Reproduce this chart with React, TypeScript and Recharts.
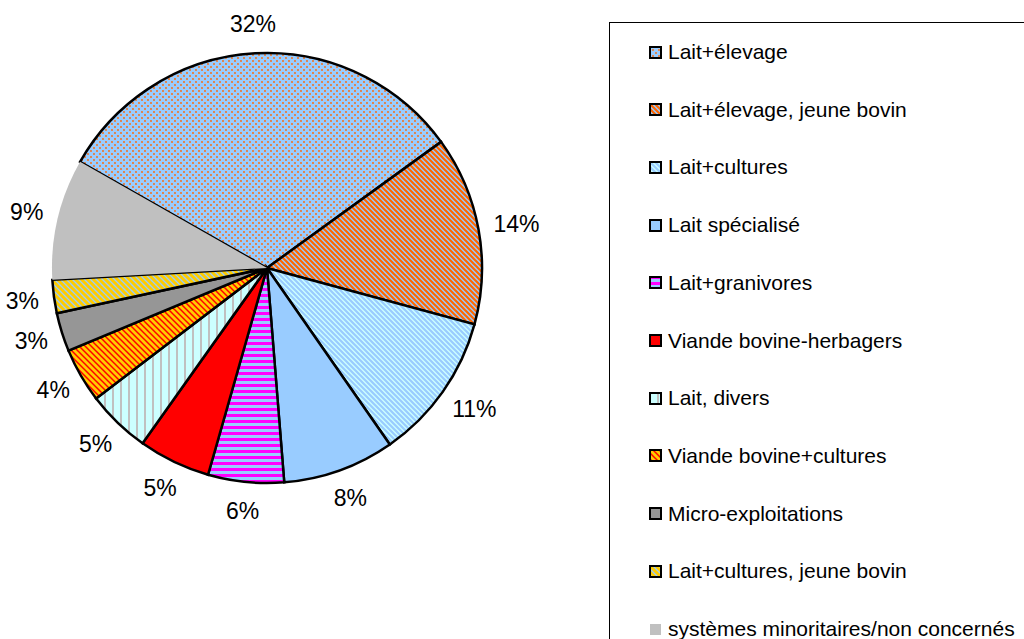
import React from 'react';
import { PieChart, Pie, Cell } from 'recharts';

const categories = [
  'Lait+élevage',
  'Lait+élevage, jeune bovin',
  'Lait+cultures',
  'Lait spécialisé',
  'Lait+granivores',
  'Viande bovine-herbagers',
  'Lait, divers',
  'Viande bovine+cultures',
  'Micro-exploitations',
  'Lait+cultures, jeune bovin',
  'systèmes minoritaires/non concernés',
];
const shares = [31.8, 14.2, 11.1, 8.4, 5.7, 5.4, 4.8, 4.1, 2.9, 2.5, 9.1];
const fills = [
  'url(#p0)', 'url(#p1)', 'url(#p2)', '#99CCFF', 'url(#p4)', '#FF0000',
  'url(#p6)', 'url(#p7)', '#969696', 'url(#p9)', '#C0C0C0',
];

const data = categories.map((name, i) => ({ name, value: shares[i] }));

const FONT = 'Liberation Sans, Arial, sans-serif';
const RAD = Math.PI / 180;

function diag(id: string, s: number, bg: string, fg: string, w: number) {
  return (
    <pattern id={id} patternUnits="userSpaceOnUse" width={s} height={s}>
      <rect width={s} height={s} fill={bg} />
      <path
        d={`M-1,-1 L${s + 1},${s + 1} M-1,${s - 1} L1,${s + 1} M${s - 1},-1 L${s + 1},1`}
        stroke={fg}
        strokeWidth={w}
      />
    </pattern>
  );
}

const renderLabel = (props: any) => {
  const { cx, cy, midAngle, outerRadius, percent } = props;
  const txt = `${Math.round(percent * 100)}%`;
  const fs = 23;
  const w = txt.length * fs * 0.6;
  const h = fs;
  const ux = Math.cos(-midAngle * RAD);
  const uy = Math.sin(-midAngle * RAD);
  const d = outerRadius + 18;
  const x = cx + d * ux + (ux * w) / 2;
  const y = cy + d * uy + (uy * h) / 2;
  return (
    <text x={x} y={y} textAnchor="middle" dominantBaseline="central" fontSize={fs} fontFamily={FONT} fill="#000">
      {txt}
    </text>
  );
};

export default function App() {
  return (
    <div style={{ position: 'absolute', left: 0, top: 0, width: 1024, height: 639, overflow: 'hidden', background: '#fff' }}>
      <PieChart width={1024} height={639} margin={{ top: 0, left: 0, right: 0, bottom: 0 }}>
        <defs>
          <pattern id="p0" patternUnits="userSpaceOnUse" width={6} height={6}>
            <rect width={6} height={6} fill="#99CCFF" />
            <circle cx={1} cy={1} r={0.9} fill="#FF6600" />
            <circle cx={4} cy={4} r={0.9} fill="#FF6600" />
          </pattern>
          {diag('p1', 5, '#99CCFF', '#FF6600', 2.2)}
          {diag('p2', 5, '#CCFFFF', '#99CCFF', 2.2)}
          <pattern id="p4" patternUnits="userSpaceOnUse" width={6} height={6}>
            <rect width={6} height={6} fill="#99CCFF" />
            <rect width={6} height={3} fill="#FF00FF" />
          </pattern>
          <pattern id="p6" patternUnits="userSpaceOnUse" width={8} height={8}>
            <rect width={8} height={8} fill="#CCFFFF" />
            <rect width={2} height={8} fill="#C0C0C0" />
          </pattern>
          {diag('p7', 6, '#FF0000', '#FFCC00', 2.8)}
          {diag('p9', 6, '#99CCFF', '#FFCC00', 3)}
        </defs>
        <Pie
          data={data}
          dataKey="value"
          nameKey="name"
          cx={267}
          cy={268}
          outerRadius={215}
          startAngle={150.4}
          endAngle={-209.6}
          isAnimationActive={false}
          label={renderLabel}
          labelLine={false}
          stroke="#000"
          strokeWidth={2}
        >
          {data.map((d, i) => (
            <Cell
              key={d.name}
              fill={fills[i]}
              stroke={i === 10 ? 'none' : '#000'}
              strokeWidth={2.5}
            />
          ))}
        </Pie>
      </PieChart>
      <div
        style={{
          position: 'absolute',
          left: 609,
          top: 22,
          width: 430,
          height: 640,
          borderLeft: '1px solid #000',
          borderTop: '1px solid #000',
          boxSizing: 'border-box',
        }}
      >
        {categories.map((c, i) => (
          <div
            key={c}
            style={{
              position: 'absolute',
              left: 39,
              top: 29 + 57.7 * i - 13,
              height: 26,
              display: 'flex',
              alignItems: 'center',
              whiteSpace: 'nowrap',
              fontFamily: FONT,
              fontSize: 21,
              color: '#000',
            }}
          >
            <svg width={13} height={13} style={{ marginRight: 6, flex: 'none' }}>
              <rect
                x={1}
                y={1}
                width={11}
                height={11}
                fill={fills[i]}
                stroke={i === 10 ? 'none' : '#000'}
                strokeWidth={2}
              />
            </svg>
            <span>{c}</span>
          </div>
        ))}
      </div>
    </div>
  );
}
